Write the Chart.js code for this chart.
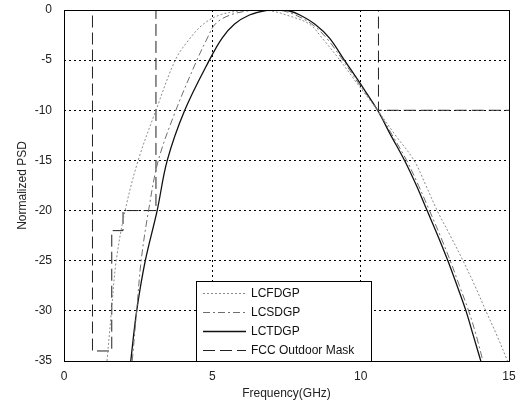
<!DOCTYPE html>
<html>
<head>
<meta charset="utf-8">
<script src="https://cdn.jsdelivr.net/npm/chart.js@4.4.1/dist/chart.umd.min.js"></script>
<style>
  html, body { margin: 0; padding: 0; background: #fff; }
  #wrap { width: 518px; height: 402px; }
</style>
</head>
<body>
<div id="wrap"><canvas id="psdChart" width="518" height="402"></canvas></div>
<script>
// frequency (GHz) / normalized PSD (dB)
const freqFD = [1.45, 1.6, 1.76, 2.06, 2.5, 3.1, 3.75, 4.2, 4.7, 5.25, 6.0, 6.5, 7.0, 7.5, 8.27, 8.7, 9.3, 9.9, 10.57, 11.15, 11.8, 12.2, 12.58, 13.02, 13.45, 13.85, 14.22, 14.6, 14.95];
const psdFD  = [-35, -30, -25, -20, -15, -10, -5, -3, -1.4, -0.5, -0.05, 0, -0.1, -0.5, -1.4, -2.8, -5, -7.4, -10, -12.4, -15, -17.5, -20, -22.5, -25, -27.5, -30, -32.5, -35];

const freqSD = [2.3, 2.45, 2.6, 2.85, 3.18, 3.77, 4.48, 4.8, 5.1, 5.6, 6.3, 6.9, 7.4, 7.8, 8.35, 8.85, 9.4, 9.95, 10.57, 11.05, 11.55, 11.95, 12.32, 12.68, 13.02, 13.33, 13.64, 13.9, 14.12];
const psdSD  = [-35, -30, -25, -20, -15, -10, -5, -3, -1.4, -0.5, -0.05, 0, -0.1, -0.5, -1.4, -2.8, -5, -7.4, -10, -12.4, -15, -17.5, -20, -22.5, -25, -27.5, -30, -32.5, -35];

const freqTD = [2.25, 2.45, 2.74, 3.14, 3.48, 4.07, 4.9, 5.33, 5.75, 6.25, 6.8, 7.2, 7.6, 7.95, 8.45, 8.95, 9.45, 10.0, 10.57, 11.0, 11.48, 11.88, 12.24, 12.6, 12.94, 13.25, 13.55, 13.8, 14.05];
const psdTD  = [-35, -30, -25, -20, -15, -10, -5, -2.8, -1.4, -0.5, -0.05, 0, -0.1, -0.5, -1.4, -2.8, -5, -7.4, -10, -12.4, -15, -17.5, -20, -22.5, -25, -27.5, -30, -32.5, -35];

const freqMask = [0, 0.96, 0.96, 1.61, 1.61, 1.99, 1.99, 3.1, 3.1, 10.6, 10.6, 15];
const psdMask  = [0, 0, -34, -34, -22, -22, -20, -20, 0, 0, -10, -10];

const xTicks = [0, 5, 10, 15];
const yTicks = [-35, -30, -25, -20, -15, -10, -5, 0];

function toPoints(xs, ys) {
    return xs.map((x, i) => ({ x: x, y: ys[i] }));
}

// box round the plot area
const boxPlugin = {
    id: 'box',
    afterDraw(chart) {
        const a = chart.chartArea;
        const ctx = chart.ctx;
        ctx.save();
        ctx.strokeStyle = '#000';
        ctx.lineWidth = 1;
        ctx.setLineDash([]);
        ctx.strokeRect(a.left + 0.5, a.top + 0.5, a.right - a.left, a.bottom - a.top);
        ctx.restore();
    }
};

// legend box inside the plot, bottom middle
const legendPlugin = {
    id: 'innerLegend',
    afterDraw(chart) {
        const ctx = chart.ctx;
        const a = chart.chartArea;
        const x0 = 196, x1 = 371, y0 = 281, y1 = a.bottom;
        ctx.save();
        ctx.fillStyle = '#fff';
        ctx.fillRect(x0, y0, x1 - x0, y1 - y0);
        ctx.strokeStyle = '#000';
        ctx.lineWidth = 1;
        ctx.setLineDash([]);
        ctx.strokeRect(x0 + 0.5, y0 + 0.5, x1 - x0, y1 - y0);
        ctx.font = '12px "Liberation Sans", Arial, sans-serif';
        ctx.textBaseline = 'middle';
        chart.data.datasets.forEach((ds, i) => {
            const y = 293.5 + i * 19;
            ctx.strokeStyle = ds.borderColor;
            ctx.lineWidth = ds.borderWidth;
            ctx.setLineDash(ds.borderDash || []);
            ctx.beginPath();
            ctx.moveTo(203, y);
            ctx.lineTo(246, y);
            ctx.stroke();
            ctx.fillStyle = '#111';
            ctx.fillText(ds.label, 251, y + 0.5);
        });
        ctx.restore();
    }
};

new Chart(document.getElementById('psdChart').getContext('2d'), {
    type: 'scatter',
    data: {
        datasets: [
            {
                label: 'LCFDGP',
                data: toPoints(freqFD, psdFD),
                showLine: true, pointRadius: 0,
                borderColor: '#8a8a8a', borderWidth: 1, borderDash: [2, 2],
                tension: 0.35
            },
            {
                label: 'LCSDGP',
                data: toPoints(freqSD, psdSD),
                showLine: true, pointRadius: 0,
                borderColor: '#6e6e6e', borderWidth: 1, borderDash: [7, 3, 2, 3],
                tension: 0.35
            },
            {
                label: 'LCTDGP',
                data: toPoints(freqTD, psdTD),
                showLine: true, pointRadius: 0,
                borderColor: '#111', borderWidth: 1.3,
                tension: 0.35
            },
            {
                label: 'FCC Outdoor Mask',
                data: toPoints(freqMask, psdMask),
                showLine: true, pointRadius: 0,
                borderColor: '#222', borderWidth: 1, borderDash: [12, 5],
                tension: 0
            }
        ]
    },
    options: {
        responsive: false,
        animation: false,
        layout: { padding: { top: 10, right: 9, left: 0, bottom: 0 } },
        plugins: { legend: { display: false }, tooltip: { enabled: false } },
        scales: {
            x: {
                type: 'linear', min: 0, max: 15,
                afterBuildTicks: s => { s.ticks = xTicks.map(v => ({ value: v })); },
                afterFit: s => { s.height = 41; s.paddingLeft = 0; s.paddingRight = 0; },
                grid: { color: '#000', lineWidth: 1, drawTicks: false },
                border: { display: false, dash: [2, 3] },
                ticks: { color: '#222', padding: 8, font: { family: '"Liberation Sans", Arial', size: 12 } },
                title: { display: true, text: 'Frequency(GHz)', color: '#222', padding: { top: 1, bottom: 1 },
                         font: { family: '"Liberation Sans", Arial', size: 12 } }
            },
            y: {
                type: 'linear', min: -35, max: 0,
                afterBuildTicks: s => { s.ticks = yTicks.map(v => ({ value: v })); },
                afterFit: s => { s.width = 64; s.paddingTop = 0; s.paddingBottom = 0; },
                grid: { color: '#000', lineWidth: 1, drawTicks: false },
                border: { display: false, dash: [2, 3] },
                ticks: { color: '#222', padding: 12, font: { family: '"Liberation Sans", Arial', size: 12 } },
                title: { display: true, text: 'Normalized PSD', color: '#222', padding: { top: 15, bottom: 0 },
                         font: { family: '"Liberation Sans", Arial', size: 12 } }
            }
        }
    },
    plugins: [boxPlugin, legendPlugin]
});
</script>
</body>
</html>
